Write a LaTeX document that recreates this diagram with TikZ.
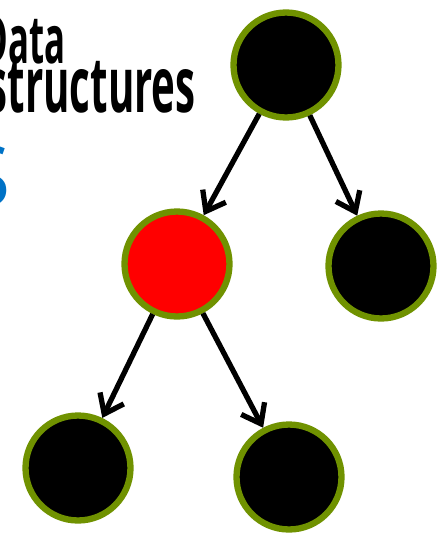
\documentclass[tikz,border=0pt]{standalone}
\usepackage{fontspec}
\usepackage{tikz}
\usetikzlibrary{arrows.meta}
\newfontfamily\handfont[FakeStretch=0.52]{Open Sans}
\newfontfamily\titlefont{Open Sans}
\definecolor{leafgreen}{RGB}{112,146,0}
\definecolor{slideblue}{RGB}{0,114,198}

\begin{document}
\begin{tikzpicture}[
    x=0.02cm, y=-0.02cm,
    treenode/.style={circle, draw=leafgreen, line width=3.6pt, fill=black, minimum size=2.1cm, inner sep=0pt},
    rednode/.style={treenode, fill=red},
    edge/.style={line width=3pt, -{Straight Barb[length=10pt, width=15pt, line width=3pt]}},
    hand/.style={font=\handfont\bfseries, text=black, inner sep=0pt},
]
\useasboundingbox (0,0) rectangle (438,538);
\clip (0,0) rectangle (438,538);

% Cut-off title at the left
\node[hand, anchor=base east, font=\handfont\bfseries\fontsize{38}{38}\selectfont] (datatext) at (66,63) {Data};
\node[hand, anchor=base east, font=\handfont\bfseries\fontsize{44}{44}\selectfont] (structtext) at (196,112) {structures};
\node[anchor=base east, inner sep=0pt, text=slideblue, font=\titlefont\fontsize{48}{48}\selectfont] (bluetext) at (11,206) {S};

% Draw the tree
\node[treenode] (root) at (286,65) {};
\node[rednode] (left) at (177,264) {};
\node[treenode] (right) at (381,266) {};
\node[treenode] (leftleft) at (78,468) {};
\node[treenode] (leftright) at (289,477) {};

\draw[edge] (root) -- (left);
\draw[edge] (root) -- (right);
\draw[edge] (left) -- (leftleft);
\draw[edge] (left) -- (leftright);

\end{tikzpicture}
\end{document}
